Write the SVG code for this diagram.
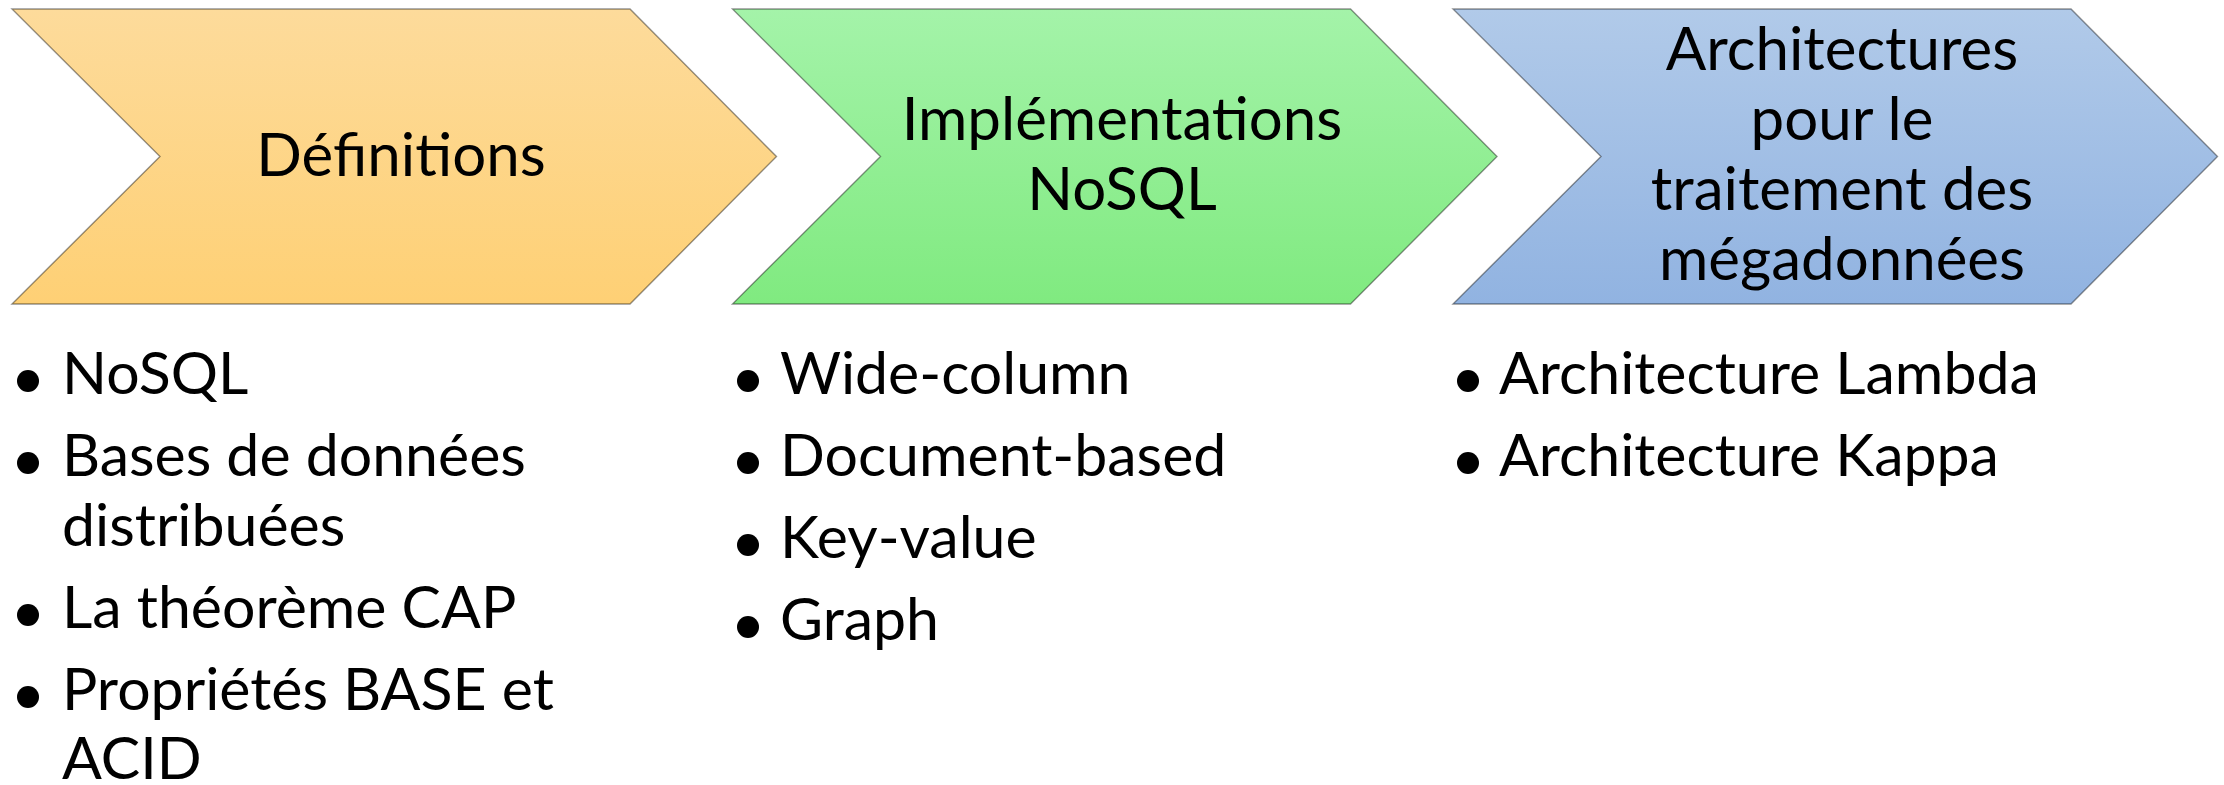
<svg xmlns="http://www.w3.org/2000/svg" width="2224" height="785" viewBox="0 0 2224 785">
  <style>
    .chev { stroke: #000; stroke-opacity: 0.42; stroke-width: 1.4; }
    .head { font-family: Lato, "Open Sans", "Liberation Sans", sans-serif; font-size: 60px; fill: #000; text-anchor: middle; }
    .item { font-family: Lato, "Open Sans", "Liberation Sans", sans-serif; font-size: 59px; fill: #000; }
    .bullet { fill: #000; }
  </style>
  <defs>
    <linearGradient id="gOrange" x1="0" y1="0" x2="0" y2="1">
      <stop offset="0" stop-color="#FDDB9B"/>
      <stop offset="1" stop-color="#FED075"/>
    </linearGradient>
    <linearGradient id="gGreen" x1="0" y1="0" x2="0" y2="1">
      <stop offset="0" stop-color="#A4F3A9"/>
      <stop offset="1" stop-color="#80EA80"/>
    </linearGradient>
    <linearGradient id="gBlue" x1="0" y1="0" x2="0" y2="1">
      <stop offset="0" stop-color="#B1CAE9"/>
      <stop offset="1" stop-color="#91B3E1"/>
    </linearGradient>
  </defs>
  <rect width="2224" height="785" fill="#fff"/>

  <g id="node-definitions">
    <polygon class="chev" fill="url(#gOrange)" points="12,9 630,9 776.5,156.5 630,304 12,304 160,156.5"/>
    <text class="head" x="401" y="176">Définitions</text>
  </g>

  <g id="node-implementations">
    <polygon class="chev" fill="url(#gGreen)" points="732.5,9 1350.5,9 1497,156.5 1350.5,304 732.5,304 880.5,156.5"/>
    <text class="head" x="1122" y="140">Implémentations</text>
    <text class="head" x="1122" y="210">NoSQL</text>
  </g>

  <g id="node-architectures">
    <polygon class="chev" fill="url(#gBlue)" points="1453,9 2071,9 2217.5,156.5 2071,304 1453,304 1601,156.5"/>
    <text class="head" x="1842" y="70">Architectures</text>
    <text class="head" x="1842" y="140">pour le</text>
    <text class="head" x="1842" y="210">traitement des</text>
    <text class="head" x="1842" y="280">mégadonnées</text>
  </g>

  <g id="list-definitions">
    <circle class="bullet" cx="28" cy="381" r="11"/>
    <text class="item" x="62" y="394">NoSQL</text>
    <circle class="bullet" cx="28" cy="463" r="11"/>
    <text class="item" x="62" y="476">Bases de données</text>
    <text class="item" x="62" y="546">distribuées</text>
    <circle class="bullet" cx="28" cy="615" r="11"/>
    <text class="item" x="62" y="628">La théorème CAP</text>
    <circle class="bullet" cx="28" cy="697" r="11"/>
    <text class="item" x="62" y="710">Propriétés BASE et</text>
    <text class="item" x="62" y="779">ACID</text>
  </g>

  <g id="list-implementations">
    <circle class="bullet" cx="748" cy="381" r="11"/>
    <text class="item" x="780" y="394">Wide-column</text>
    <circle class="bullet" cx="748" cy="463" r="11"/>
    <text class="item" x="780" y="476">Document-based</text>
    <circle class="bullet" cx="748" cy="545" r="11"/>
    <text class="item" x="780" y="558">Key-value</text>
    <circle class="bullet" cx="748" cy="627" r="11"/>
    <text class="item" x="780" y="640">Graph</text>
  </g>

  <g id="list-architectures">
    <circle class="bullet" cx="1468" cy="381" r="11"/>
    <text class="item" x="1499" y="394">Architecture Lambda</text>
    <circle class="bullet" cx="1468" cy="463" r="11"/>
    <text class="item" x="1499" y="476">Architecture Kappa</text>
  </g>

  <g id="connectors"></g>
</svg>
